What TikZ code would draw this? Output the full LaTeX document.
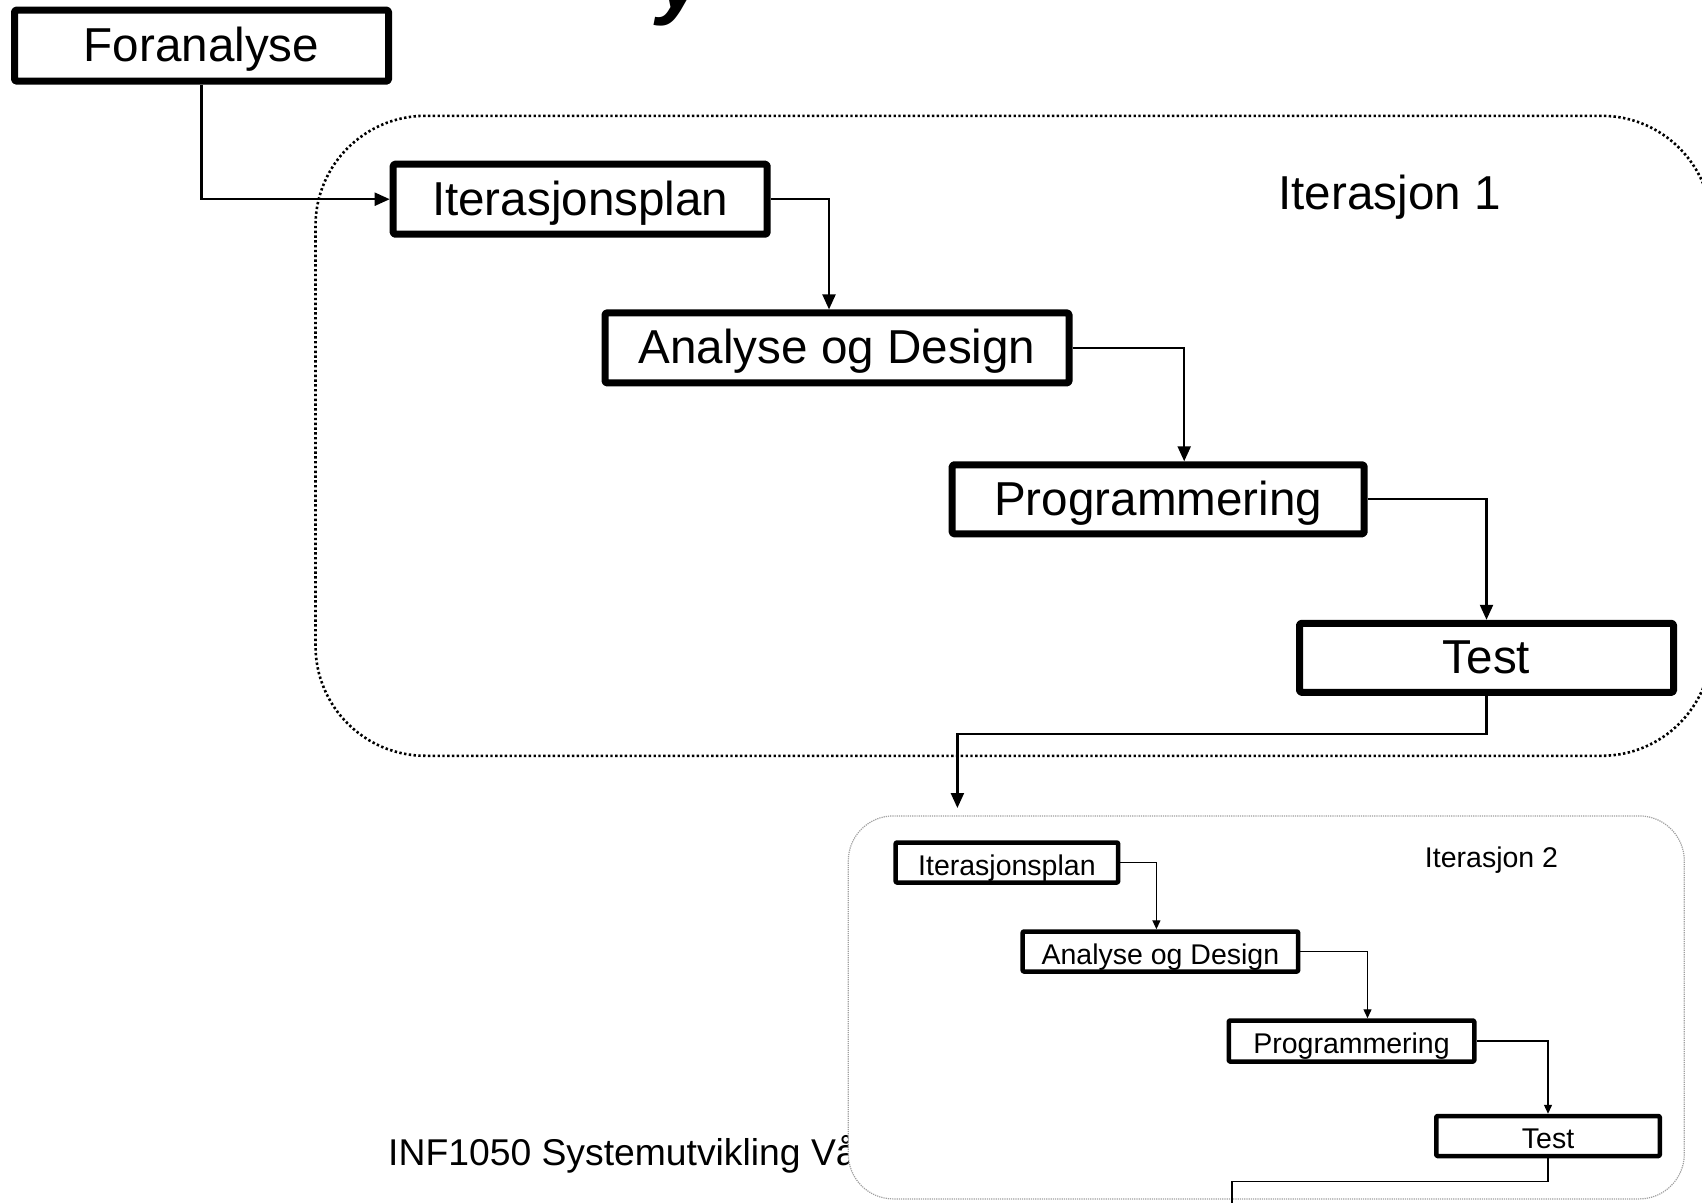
\documentclass[tikz,border=0pt]{standalone}
\usepackage{fontspec}
\setmainfont{Liberation Sans}
\usetikzlibrary{arrows.meta}

\tikzset{
  bigbox/.style={draw, line width=7pt, line join=round, rounded corners=1.5pt,
    inner sep=0pt, fill=white, text height=32pt, text depth=0pt,
    font=\fontsize{47.6}{52}\selectfont},
  smallbox/.style={draw, line width=4.5pt, line join=round, rounded corners=1pt,
    inner sep=0pt, fill=white, text height=25pt, text depth=0pt,
    font=\fontsize{28.5}{32}\selectfont},
  biglink/.style={line width=2.2pt, -{Triangle[length=15pt,width=13pt]}},
  smalllink/.style={line width=1.3pt, -{Triangle[length=9pt,width=8pt]}},
  smallline/.style={line width=1.3pt},
  frameone/.style={draw, line width=2.6pt, dash pattern=on 2.4pt off 2.4pt,
    rounded corners=110pt, inner sep=0pt},
  frametwo/.style={draw=gray!75, line width=1.2pt, densely dotted,
    rounded corners=45pt, fill=white, inner sep=0pt},
  biglabel/.style={inner sep=0pt, anchor=base, font=\fontsize{47.6}{52}\selectfont},
  smalllabel/.style={inner sep=0pt, anchor=base, font=\fontsize{28.5}{32}\selectfont},
}

\begin{document}
\begin{tikzpicture}[x=1pt,y=-1pt]
\useasboundingbox (0,0) rectangle (1702,1202);

% title letter running into the top edge
\node[font=\fontsize{85}{90}\selectfont\bfseries\itshape, anchor=base, inner sep=0pt]
  (ttl) at (681,8) {y};

% dotted frame of the first iteration
\node[frameone, minimum width=1396pt, minimum height=640pt] (f1) at (1013.5,435.8) {};
\node[biglabel] (lab1) at (1389.5,209.5) {Iterasjon 1};

% footer, partly covered by the second frame
\node[anchor=base west, inner sep=0pt, font=\fontsize{37.3}{40}\selectfont]
  (foot) at (388,1165) {INF1050 Systemutvikling Vår};

% frame of the second iteration
\node[frametwo, minimum width=836pt, minimum height=383pt] (f2) at (1266.3,1007.4) {};
\node[smalllabel] (lab2) at (1491.5,867.6) {Iterasjon 2};

% phases, first iteration
\node[bigbox, minimum width=374pt, minimum height=71pt] (fa)  at (201.5,45.6)  {Foranalyse};
\node[bigbox, minimum width=374pt, minimum height=70pt] (it1) at (580.2,199.2) {Iterasjonsplan};
\node[bigbox, minimum width=464pt, minimum height=70pt] (ad1) at (837,347.9)   {Analyse og Design};
\node[bigbox, minimum width=412pt, minimum height=69pt] (pr1) at (1158.2,499.3) {Programmering};
\node[bigbox, minimum width=374pt, minimum height=69pt] (t1)  at (1486.5,657.8) {Test};

% phases, second iteration
\node[smallbox, minimum width=222.5pt, minimum height=40pt] (it2) at (1006.9,862.5) {Iterasjonsplan};
\node[smallbox, minimum width=275.5pt, minimum height=40pt] (ad2) at (1160.4,951.5) {Analyse og Design};
\node[smallbox, minimum width=245.5pt, minimum height=41pt] (pr2) at (1351.5,1041)  {Programmering};
\node[smallbox, minimum width=223.5pt, minimum height=40pt] (t2)  at (1548,1136)    {Test};

% free ends of the hand-over lines
\coordinate (in2)  at (957.4,808);
\coordinate (out2) at (1232,1215);

% flow, first iteration
\draw[biglink] (fa.south) |- (it1.west);
\draw[biglink] (it1.east) -| ([xshift=-8pt]ad1.north);
\draw[biglink] (ad1.east) -| ([xshift=26pt]pr1.north);
\draw[biglink] (pr1.east) -| (t1.north);
\draw[biglink] (t1.south) -- ++(0,38) -| (in2);

% flow, second iteration
\draw[smalllink] (it2.east) -| ([xshift=-4pt]ad2.north);
\draw[smalllink] (ad2.east) -| ([xshift=16pt]pr2.north);
\draw[smalllink] (pr2.east) -| (t2.north);
\draw[smallline] (t2.south) -- ++(0,23) -| (out2);
\end{tikzpicture}
\end{document}
